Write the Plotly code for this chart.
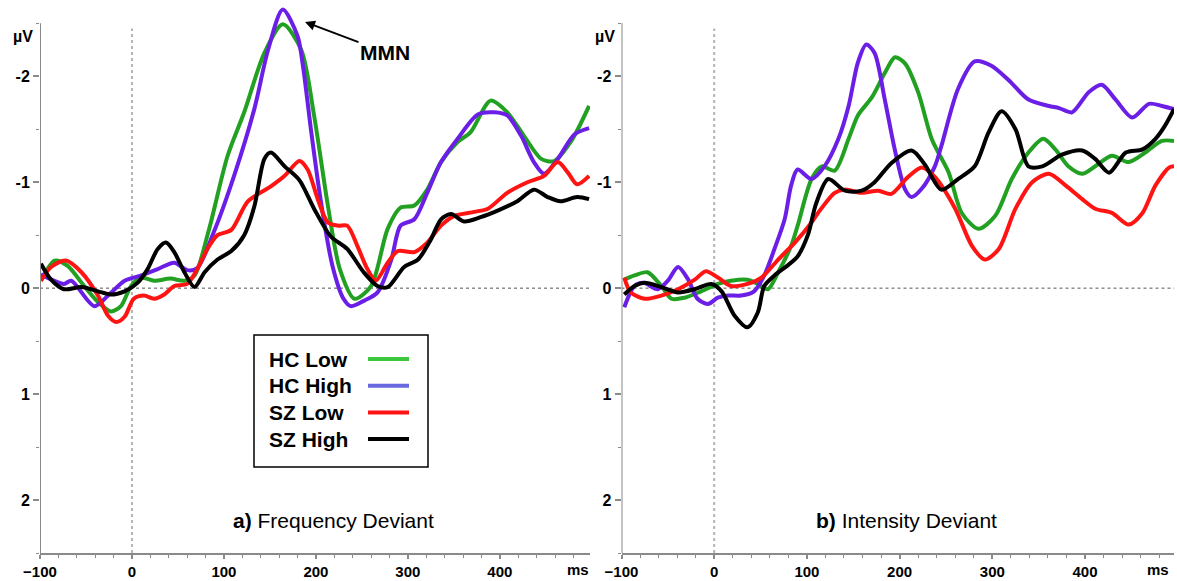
import plotly.graph_objects as go

# ---------------- data (ms, µV) ----------------
# Panel a) Frequency Deviant
a_hc_low_t = [-99, -84, -70, -52, -37, -23, -12, -1, 10, 24, 42, 57, 68, 83, 104, 122, 144, 164, 184, 198, 213, 226, 242, 260, 278, 292, 307, 321, 336, 354, 368, 390, 408, 426, 445, 459, 477, 497]
a_hc_low_v = [-0.07, -0.26, -0.21, -0.02, 0.13, 0.22, 0.17, -0.02, -0.10, -0.07, -0.09, -0.07, -0.12, -0.53, -1.25, -1.66, -2.22, -2.49, -2.25, -1.63, -0.78, -0.18, 0.10, -0.02, -0.56, -0.76, -0.78, -0.93, -1.19, -1.38, -1.47, -1.77, -1.66, -1.44, -1.22, -1.20, -1.38, -1.72]

a_hc_high_t = [-99, -74, -66, -41, -26, -8, 10, 28, 46, 60, 71, 89, 111, 133, 148, 164, 180, 186, 195, 205, 218, 230, 238, 252, 267, 282, 292, 307, 321, 336, 354, 376, 394, 408, 423, 437, 448, 463, 481, 497]
a_hc_high_v = [-0.13, -0.04, -0.07, 0.17, 0.07, -0.07, -0.12, -0.18, -0.24, -0.17, -0.19, -0.53, -1.06, -1.69, -2.25, -2.63, -2.38, -2.09, -1.47, -0.84, -0.21, 0.10, 0.17, 0.12, 0.04, -0.27, -0.59, -0.65, -0.90, -1.19, -1.41, -1.64, -1.66, -1.63, -1.44, -1.19, -1.08, -1.22, -1.45, -1.51]

a_sz_low_t = [-99, -88, -72, -55, -37, -26, -17, -8, 2, 13, 24, 35, 46, 60, 71, 82, 93, 108, 126, 151, 166, 182, 191, 202, 213, 224, 234, 245, 256, 265, 278, 289, 307, 321, 336, 350, 372, 387, 408, 430, 448, 463, 474, 484, 497]
a_sz_low_v = [-0.07, -0.20, -0.26, -0.15, 0.07, 0.26, 0.32, 0.27, 0.10, 0.07, 0.10, 0.06, -0.02, -0.04, -0.18, -0.37, -0.50, -0.55, -0.82, -0.96, -1.06, -1.20, -1.12, -0.84, -0.62, -0.59, -0.59, -0.40, -0.18, -0.07, -0.24, -0.35, -0.34, -0.43, -0.59, -0.68, -0.72, -0.75, -0.90, -1.00, -1.06, -1.19, -1.09, -0.98, -1.06]

a_sz_high_t = [-99, -88, -74, -55, -37, -23, -8, 6, 17, 28, 37, 46, 57, 68, 79, 93, 108, 122, 133, 144, 151, 166, 182, 198, 216, 234, 252, 267, 278, 296, 311, 325, 336, 347, 361, 379, 397, 419, 437, 452, 466, 484, 497]
a_sz_high_v = [-0.23, -0.08, 0.01, -0.01, 0.03, 0.06, 0.03, -0.05, -0.18, -0.37, -0.43, -0.34, -0.15, -0.01, -0.15, -0.27, -0.35, -0.50, -0.77, -1.22, -1.28, -1.15, -1.02, -0.75, -0.49, -0.37, -0.15, -0.02, -0.01, -0.20, -0.27, -0.46, -0.65, -0.70, -0.63, -0.67, -0.73, -0.82, -0.93, -0.86, -0.82, -0.86, -0.84]

# Panel b) Intensity Deviant
b_hc_low_t = [-97, -86, -72, -57, -46, -32, -14, 4, 18, 36, 47, 58, 69, 83, 90, 105, 116, 130, 145, 155, 170, 184, 195, 206, 220, 235, 253, 267, 285, 303, 321, 339, 355, 368, 382, 397, 411, 429, 447, 465, 483, 496]
b_hc_low_v = [-0.08, -0.12, -0.15, -0.02, 0.10, 0.09, 0.03, -0.04, -0.07, -0.08, -0.04, 0.01, -0.15, -0.40, -0.59, -1.03, -1.15, -1.11, -1.41, -1.63, -1.80, -2.03, -2.18, -2.12, -1.85, -1.40, -1.09, -0.71, -0.56, -0.68, -1.03, -1.28, -1.41, -1.31, -1.15, -1.08, -1.15, -1.25, -1.19, -1.28, -1.39, -1.39]

b_hc_high_t = [-97, -86, -76, -61, -50, -39, -28, -18, -7, 4, 15, 29, 43, 54, 65, 76, 83, 90, 105, 119, 134, 145, 155, 164, 173, 184, 195, 206, 213, 224, 238, 245, 263, 281, 299, 318, 339, 361, 372, 386, 404, 418, 433, 451, 469, 483, 496]
b_hc_high_v = [0.18, -0.02, -0.05, 0.01, -0.07, -0.20, -0.08, 0.10, 0.15, 0.09, 0.07, 0.07, 0.03, -0.12, -0.37, -0.65, -0.97, -1.12, -1.03, -1.15, -1.41, -1.72, -2.13, -2.30, -2.22, -1.78, -1.30, -0.93, -0.86, -0.94, -1.15, -1.34, -1.88, -2.14, -2.10, -1.96, -1.78, -1.72, -1.70, -1.66, -1.85, -1.92, -1.78, -1.61, -1.74, -1.72, -1.69]

b_sz_low_t = [-97, -90, -75, -57, -39, -21, -9, 4, 18, 36, 51, 69, 87, 105, 112, 130, 141, 159, 177, 191, 209, 224, 238, 260, 278, 292, 307, 325, 343, 361, 379, 397, 411, 429, 447, 462, 476, 491, 496]
b_sz_low_v = [-0.10, 0.04, 0.10, 0.07, 0.01, -0.08, -0.16, -0.10, -0.02, -0.04, -0.10, -0.27, -0.43, -0.62, -0.71, -0.90, -0.93, -0.90, -0.92, -0.89, -1.05, -1.14, -1.05, -0.75, -0.40, -0.27, -0.37, -0.75, -1.00, -1.08, -0.97, -0.84, -0.75, -0.71, -0.60, -0.71, -0.97, -1.14, -1.15]

b_sz_high_t = [-97, -86, -75, -57, -39, -21, -3, 8, 22, 36, 47, 54, 65, 80, 90, 101, 110, 123, 141, 159, 173, 191, 213, 227, 245, 263, 281, 296, 310, 325, 339, 354, 375, 397, 411, 426, 444, 462, 476, 486, 496]
b_sz_high_v = [0.06, -0.02, -0.05, -0.01, 0.04, 0.01, -0.04, 0.03, 0.26, 0.37, 0.23, -0.02, -0.12, -0.22, -0.30, -0.50, -0.80, -1.03, -0.92, -0.92, -1.00, -1.18, -1.30, -1.17, -0.93, -1.03, -1.15, -1.47, -1.67, -1.50, -1.15, -1.15, -1.26, -1.30, -1.22, -1.09, -1.28, -1.31, -1.41, -1.53, -1.69]

series_names = ["HC Low", "HC High", "SZ Low", "SZ High"]
line_colors = ["#22a022", "#6a1ee6", "#ff1414", "#000000"]
legend_colors = ["#3cc83c", "#6a6ae0", "#ff1414", "#000000"]
x_ticks = [-100, 0, 100, 200, 300, 400]
y_ticks = [-2, -1, 0, 1, 2]
panel_titles = ["<b>a)</b> Frequency Deviant", "<b>b)</b> Intensity Deviant"]

# ---------------- figure ----------------
W, H = 1177, 581
MB = 28           # bottom margin
PH = H - MB       # plot height in px
FONT = "Liberation Sans, Arial, Helvetica, sans-serif"
AXC = "#8a8a8a"


def px(x):
    return x / W


def py(y):
    return (PH - y) / PH


fig = go.Figure()
panel_a = [(a_hc_low_t, a_hc_low_v), (a_hc_high_t, a_hc_high_v), (a_sz_low_t, a_sz_low_v), (a_sz_high_t, a_sz_high_v)]
panel_b = [(b_hc_low_t, b_hc_low_v), (b_hc_high_t, b_hc_high_v), (b_sz_low_t, b_sz_low_v), (b_sz_high_t, b_sz_high_v)]
for axes, panel in (("", panel_a), ("2", panel_b)):
    for name, col, (t, v) in zip(series_names, line_colors, panel):
        fig.add_trace(go.Scatter(
            x=t, y=v, mode="lines", name=name, showlegend=False,
            line=dict(color=col, width=4, shape="spline", smoothing=0.8),
            xaxis="x" + axes, yaxis="y" + axes))

xr = {"": [-100, 498], "2": [-100, 496]}
xdom = {"": [px(40), px(590)], "2": [px(621.5), px(1174)]}
yrange = [2.5, -2.72]

layout = dict(
    width=W, height=H, margin=dict(l=0, r=0, t=0, b=MB, autoexpand=False),
    paper_bgcolor="white", plot_bgcolor="white",
    font=dict(family=FONT, color="black"),
    showlegend=False,
)
shapes = []
for k in ("", "2"):
    xa = "xaxis" + k
    ya = "yaxis" + k
    layout[xa] = dict(
        domain=xdom[k], range=xr[k], anchor="y" + k, automargin=False,
        showline=True, linecolor=AXC, linewidth=2,
        ticks="outside", ticklen=4, tickwidth=1.5, tickcolor=AXC,
        tickvals=x_ticks, tickfont=dict(size=15, weight="bold", family=FONT),
        minor=dict(tick0=0, dtick=20, ticks="outside", ticklen=3, tickwidth=1, tickcolor=AXC),
        showgrid=False, zeroline=False, fixedrange=True,
    )
    layout[ya] = dict(
        domain=[0, 1], range=yrange, anchor="x" + k, automargin=False,
        showline=False, ticks="outside", ticklen=6, tickwidth=1.5, tickcolor=AXC,
        tickvals=y_ticks, ticktext=[str(t) for t in y_ticks],
        tickfont=dict(size=16, weight="bold", family=FONT),
        minor=dict(tick0=0, dtick=0.5, ticks="outside", ticklen=3, tickwidth=1, tickcolor=AXC),
        showgrid=False, zeroline=False, fixedrange=True,
    )
    xref, yref = "x" + k, "y" + k
    # y axis line (only -2.5 .. 2.5)
    shapes.append(dict(type="line", xref=xref, yref=yref, x0=-100, x1=-100, y0=2.5, y1=-2.5,
                       line=dict(color=AXC, width=2), layer="above"))
    # dotted zero line
    shapes.append(dict(type="line", xref=xref, yref=yref, x0=-100, x1=xr[k][1], y0=0, y1=0,
                       line=dict(color="#555555", width=1, dash="dot"), layer="below"))
    # dotted stimulus onset line
    shapes.append(dict(type="line", xref=xref, yref=yref, x0=0, x1=0, y0=2.5, y1=-2.45,
                       line=dict(color="#b4b4b4", width=2, dash="dot"), layer="below"))

annotations = []
# µV and ms labels
for xpix in (23, 605):
    annotations.append(dict(xref="paper", yref="paper", x=px(xpix), y=py(36), text="<b>µV</b>",
                            showarrow=False, font=dict(size=16), xanchor="center", yanchor="middle"))
for xpix in (578, 1158):
    annotations.append(dict(xref="paper", yref="paper", x=px(xpix), y=py(569), text="<b>ms</b>",
                            showarrow=False, font=dict(size=15), xanchor="center", yanchor="middle"))
# panel titles
for xpix, txt in zip((333, 906), panel_titles):
    annotations.append(dict(xref="paper", yref="paper", x=px(xpix), y=py(520), text=txt,
                            showarrow=False, font=dict(size=21), xanchor="center", yanchor="middle"))
# MMN arrow
annotations.append(dict(xref="paper", yref="paper", x=px(305), y=py(22),
                        ax=80, ay=30, axref="pixel", ayref="pixel",
                        text="<b>MMN</b>", font=dict(size=21), showarrow=True,
                        arrowhead=2, arrowsize=1, arrowwidth=2, arrowcolor="black"))
# legend box
shapes.append(dict(type="rect", xref="paper", yref="paper", x0=px(254), x1=px(428), y0=py(335), y1=py(467),
                   line=dict(color="black", width=1.5), fillcolor="white", layer="above"))
for i, (name, col) in enumerate(zip(series_names, legend_colors)):
    yc = 359 + i * 26.7
    annotations.append(dict(xref="paper", yref="paper", x=px(267), y=py(yc), text="<b>%s</b>" % name,
                            showarrow=False, font=dict(size=21), xanchor="left", yanchor="middle"))
    shapes.append(dict(type="line", xref="paper", yref="paper", x0=px(368), x1=px(409), y0=py(yc), y1=py(yc),
                       line=dict(color=col, width=4), layer="above"))

layout["shapes"] = shapes
layout["annotations"] = annotations
fig.update_layout(**layout)
fig.write_html("out.html")
